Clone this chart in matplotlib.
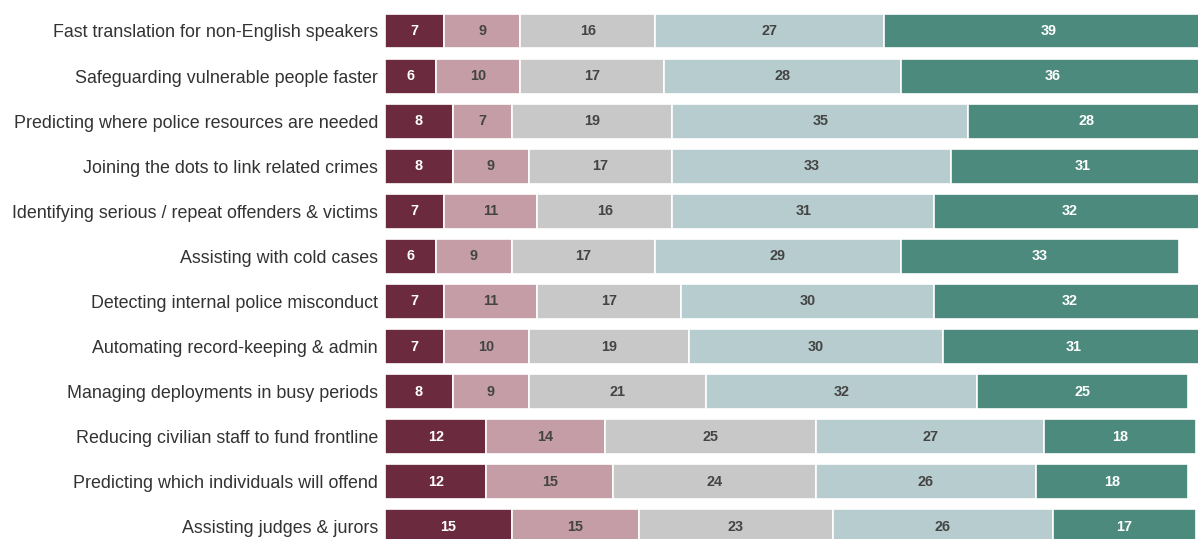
import matplotlib.pyplot as plt
import numpy as np

plt.rcParams['font.family'] = ['Liberation Sans', 'DejaVu Sans']

categories = [
    'Fast translation for non-English speakers',
    'Safeguarding vulnerable people faster',
    'Predicting where police resources are needed',
    'Joining the dots to link related crimes',
    'Identifying serious / repeat offenders & victims',
    'Assisting with cold cases',
    'Detecting internal police misconduct',
    'Automating record-keeping & admin',
    'Managing deployments in busy periods',
    'Reducing civilian staff to fund frontline',
    'Predicting which individuals will offend',
    'Assisting judges & jurors',
]

strongly_oppose = [7, 6, 8, 8, 7, 6, 7, 7, 8, 12, 12, 15]
oppose = [9, 10, 7, 9, 11, 9, 11, 10, 9, 14, 15, 15]
neutral = [16, 17, 19, 17, 16, 17, 17, 19, 21, 25, 24, 23]
support = [27, 28, 35, 33, 31, 29, 30, 30, 32, 27, 26, 26]
strongly_support = [39, 36, 28, 31, 32, 33, 32, 31, 25, 18, 18, 17]

series = [strongly_oppose, oppose, neutral, support, strongly_support]
colors = ['#6b2a3d', '#c49da6', '#c8c8c8', '#b7cccf', '#4b8a7d']
text_colors = ['white', '#444444', '#444444', '#444444', 'white']

fig = plt.figure(figsize=(11.98, 5.39), dpi=100)
ax = fig.add_axes([385 / 1198, 0, 1 - 385 / 1198, 1])

y = np.arange(len(categories))
left = np.zeros(len(categories))
for vals, c, tc in zip(series, colors, text_colors):
    vals = np.array(vals, dtype=float)
    ax.barh(y, vals, left=left, height=0.775, color=c, edgecolor='white', linewidth=1.2)
    for yi, l, v in zip(y, left, vals):
        ax.text(l + v / 2, yi, f'{int(v)}', ha='center', va='center',
                color=tc, fontsize=10.4, fontweight='bold')
    left += vals

ax.set_xlim(0, 96.2)
ax.set_ylim(11.27, -0.687)
ax.set_yticks(y)
ax.set_yticklabels(categories, fontsize=12.9, color='#333333')
ax.tick_params(axis='y', length=0, pad=5)
ax.set_xticks([])
for s in ax.spines.values():
    s.set_visible(False)

fig.savefig('out.png', dpi=100)
